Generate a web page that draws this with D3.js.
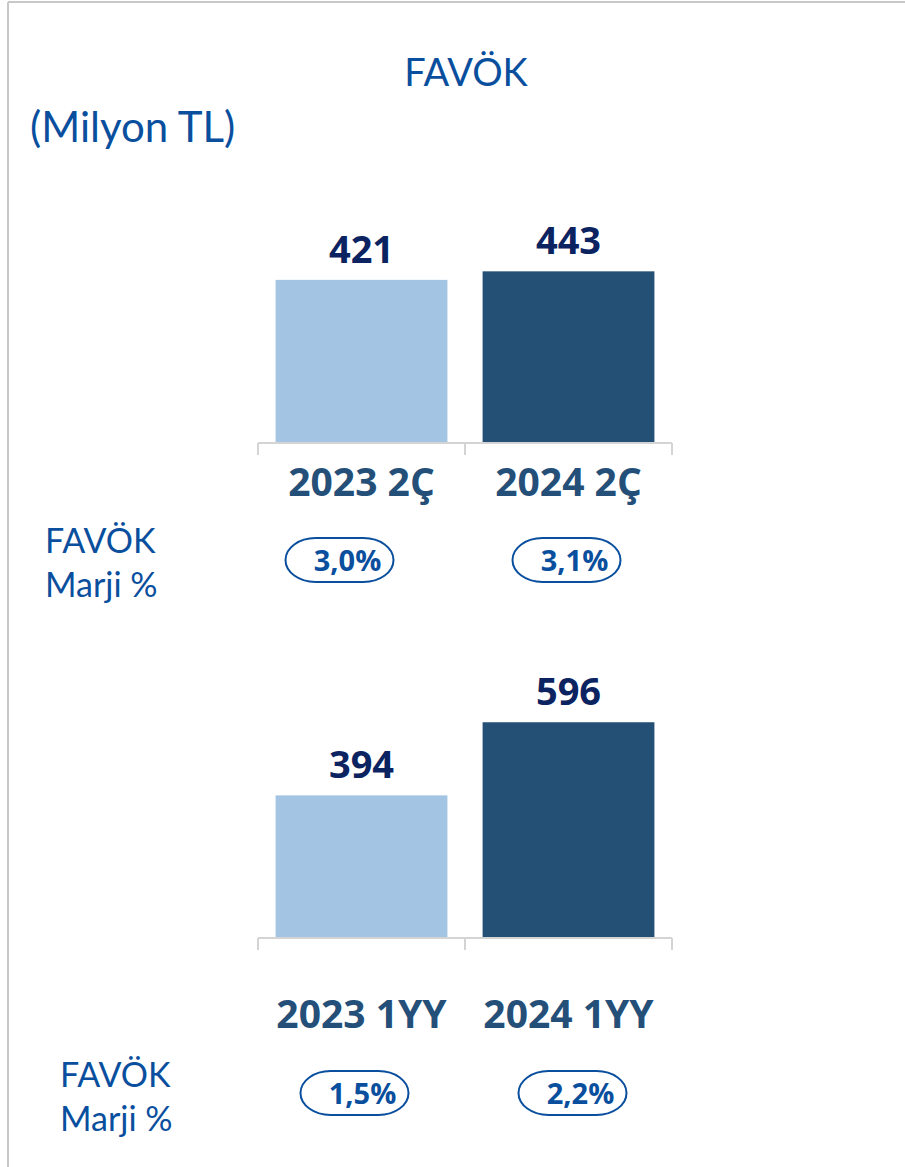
<!DOCTYPE html>
<meta charset="utf-8">
<head>
<title>FAVÖK</title>
<script src="https://d3js.org/d3.v7.min.js"></script>
<style>
  body { margin: 0; background: #fff; }
  svg text { font-family: "Open Sans", sans-serif; }
  .reg { font-family: Lato, "Open Sans", sans-serif; fill: #0a4f9e; }
</style>
</head>
<body>
<script>

// data
var quarterCats = ["2023 2Ç", "2024 2Ç"],
    quarterVals = [421, 443],
    quarterMargins = ["3,0%", "3,1%"];

var halfCats = ["2023 1YY", "2024 1YY"],
    halfVals = [394, 596],
    halfMargins = ["1,5%", "2,2%"];

var barColors = ["#a3c4e2", "#245075"];

var width = 905,
    height = 1167;

var svg = d3.select("body").append("svg")
    .attr("width", width)
    .attr("height", height);

// frame lines top and left
svg.append("line").attr("x1", 8).attr("x2", width).attr("y1", 2).attr("y2", 2)
    .attr("stroke", "#c8c8c8").attr("stroke-width", 2);
svg.append("line").attr("x1", 8).attr("x2", 8).attr("y1", 2).attr("y2", height)
    .attr("stroke", "#c8c8c8").attr("stroke-width", 2);

svg.append("text").attr("class", "reg")
    .attr("x", 466).attr("y", 86)
    .attr("text-anchor", "middle")
    .style("font-size", "38px")
    .text("FAVÖK");

svg.append("text").attr("class", "reg")
    .attr("x", 30).attr("y", 142)
    .style("font-size", "42px")
    .text("(Milyon TL)");

function drawChart(cfg) {
  var g = svg.append("g");

  var x = d3.scaleBand()
      .domain(cfg.cats)
      .range([258, 672])
      .paddingInner(0.17)
      .paddingOuter(0.085);

  var y = d3.scaleLinear()
      .domain([0, cfg.max])
      .range([cfg.base, cfg.base - cfg.max * cfg.k]);

  g.selectAll("rect.bar")
    .data(cfg.vals)
    .enter().append("rect")
      .attr("class", "bar")
      .attr("x", function(d, i) { return x(cfg.cats[i]); })
      .attr("y", function(d) { return y(d); })
      .attr("width", x.bandwidth())
      .attr("height", function(d) { return y(0) - y(d); })
      .attr("fill", function(d, i) { return barColors[i]; });

  // axis line with ticks at band edges
  var r = x.range(),
      mid = (x(cfg.cats[0]) + x.bandwidth() + x(cfg.cats[1])) / 2;
  g.append("line")
      .attr("x1", r[0]).attr("x2", r[1])
      .attr("y1", y(0)).attr("y2", y(0))
      .attr("stroke", "#d4d4d4").attr("stroke-width", 2);
  g.selectAll("line.tick")
    .data([r[0], mid, r[1]])
    .enter().append("line")
      .attr("class", "tick")
      .attr("x1", function(d) { return d; }).attr("x2", function(d) { return d; })
      .attr("y1", y(0)).attr("y2", y(0) + 12)
      .attr("stroke", "#d4d4d4").attr("stroke-width", 2);

  // value labels
  g.selectAll("text.val")
    .data(cfg.vals)
    .enter().append("text")
      .attr("class", "val")
      .attr("x", function(d, i) { return x(cfg.cats[i]) + x.bandwidth() / 2; })
      .attr("y", function(d) { return y(d) - 17; })
      .attr("text-anchor", "middle")
      .style("font-size", "38px")
      .style("font-weight", "bold")
      .attr("fill", "#0b2461")
      .text(function(d) { return d; });

  // category labels
  g.selectAll("text.cat")
    .data(cfg.cats)
    .enter().append("text")
      .attr("class", "cat")
      .attr("x", function(d) { return x(d) + x.bandwidth() / 2; })
      .attr("y", cfg.catY)
      .attr("text-anchor", "middle")
      .style("font-size", "39px")
      .style("font-weight", "bold")
      .attr("fill", "#244f79")
      .text(function(d) { return d; });

  // margin pills
  var pill = g.selectAll("g.pill")
    .data(cfg.margins)
    .enter().append("g")
      .attr("class", "pill")
      .attr("transform", function(d, i) {
        return "translate(" + (x(cfg.cats[i]) + x.bandwidth() / 2 + cfg.pillDx[i]) + "," + cfg.pillY + ")";
      });
  pill.append("rect")
      .attr("x", -54).attr("y", -22)
      .attr("width", 108).attr("height", 44)
      .attr("rx", 30).attr("ry", 22)
      .attr("fill", "none")
      .attr("stroke", "#0a4f9e")
      .attr("stroke-width", 2);
  pill.append("text")
      .attr("x", 8).attr("y", 11)
      .attr("text-anchor", "middle")
      .style("font-size", "29px")
      .style("font-weight", "bold")
      .attr("fill", "#0a4f9e")
      .text(function(d) { return d; });

  // row label
  var lab = g.append("text").attr("class", "reg")
      .style("font-size", "34px");
  lab.append("tspan").attr("x", cfg.labX).attr("y", cfg.labY).text("FAVÖK");
  lab.append("tspan").attr("x", cfg.labX).attr("y", cfg.labY + 44).text("Marji %");
}

drawChart({
  cats: quarterCats, vals: quarterVals, margins: quarterMargins,
  max: 500, k: 0.3875, base: 443,
  catY: 496, pillY: 560, pillDx: [-22, -2],
  labX: 45, labY: 553
});

drawChart({
  cats: halfCats, vals: halfVals, margins: halfMargins,
  max: 700, k: 0.362, base: 938,
  catY: 1028, pillY: 1093, pillDx: [-7, 4],
  labX: 60, labY: 1087
});

</script>
</body>
